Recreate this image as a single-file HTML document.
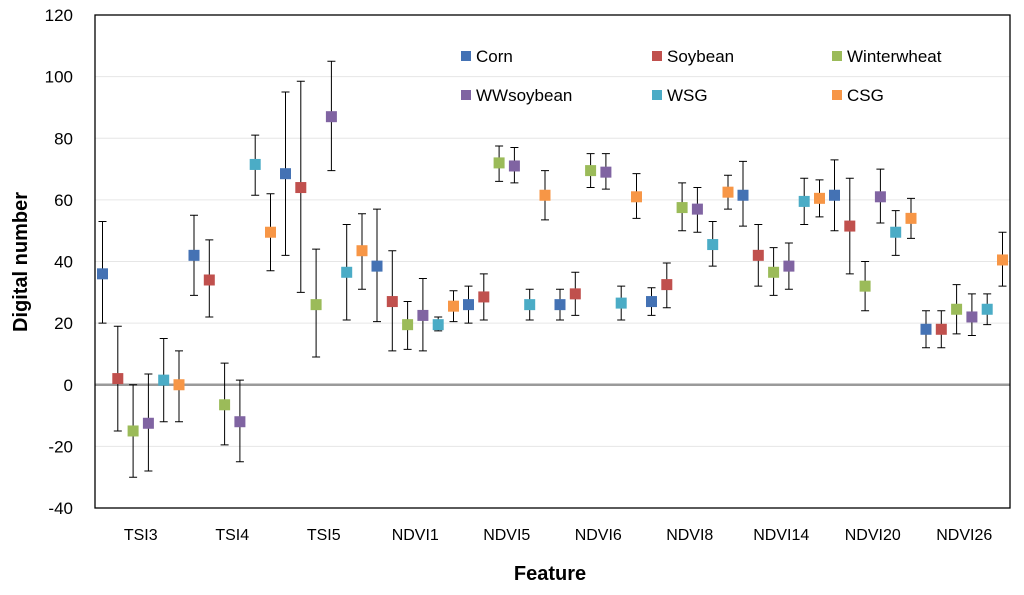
<!DOCTYPE html>
<html><head><meta charset="utf-8"><style>
body{margin:0;background:#fff;}
svg{font-family:"Liberation Sans",sans-serif;}
</style></head><body>
<svg id="c" width="1024" height="590"></svg>
<script>
const categories=["TSI3","TSI4","TSI5","NDVI1","NDVI5","NDVI6","NDVI8","NDVI14","NDVI20","NDVI26"];
const seriesNames=["Corn","Soybean","Winterwheat","WWsoybean","WSG","CSG"];
const colors=["#4472b4","#c0504d","#9bbb59","#8064a2","#4bacc6","#f79646"];
const cornMean=[36,42,68.5,38.5,26,26,27,61.5,61.5,18];
const cornLo=[20,29,42,20.5,20,21,22.5,51.5,50,12];
const cornHi=[53,55,95,57,32,31,31.5,72.5,73,24];
const soyMean=[2,34,64,27,28.5,29.5,32.5,42,51.5,18];
const soyLo=[-15,22,30,11,21,22.5,25,32,36,12];
const soyHi=[19,47,98.5,43.5,36,36.5,39.5,52,67,24];
const wwMean=[-15,-6.5,26,19.5,72,69.5,57.5,36.5,32,24.5];
const wwLo=[-30,-19.5,9,11.5,66,64,50,29,24,16.5];
const wwHi=[0,7,44,27,77.5,75,65.5,44.5,40,32.5];
const wwsMean=[-12.5,-12,87,22.5,71,69,57,38.5,61,22];
const wwsLo=[-28,-25,69.5,11,65.5,63.5,49.5,31,52.5,16];
const wwsHi=[3.5,1.5,105,34.5,77,75,64,46,70,29.5];
const wsgMean=[1.5,71.5,36.5,19.5,26,26.5,45.5,59.5,49.5,24.5];
const wsgLo=[-12,61.5,21,17.5,21,21,38.5,52,42,19.5];
const wsgHi=[15,81,52,22,31,32,53,67,56.5,29.5];
const csgMean=[0,49.5,43.5,25.5,61.5,61,62.5,60.5,54,40.5];
const csgLo=[-12,37,31,20.5,53.5,54,57,54.5,47.5,32];
const csgHi=[11,62,55.5,30.5,69.5,68.5,68,66.5,60.5,49.5];
const yTicks=[-40,-20,0,20,40,60,80,100,120];
const means=[cornMean,soyMean,wwMean,wwsMean,wsgMean,csgMean];
const los=[cornLo,soyLo,wwLo,wwsLo,wsgLo,csgLo];
const his=[cornHi,soyHi,wwHi,wwsHi,wsgHi,csgHi];

const NS="http://www.w3.org/2000/svg";
const svg=document.getElementById('c');
const L=95,R=1010,T=15,B=508;
const y=v=>B-(v+40)/160*(B-T);
const cw=(R-L)/categories.length;
const x=(ci,si)=>L+cw*ci+cw/2+(si-2.5)*15.3;
function el(t,a,txt){const e=document.createElementNS(NS,t);for(const k in a)e.setAttribute(k,a[k]);if(txt!==undefined)e.textContent=txt;svg.appendChild(e);return e;}

yTicks.forEach(v=>{
  const g=el('line',{x1:L,x2:R,y1:y(v),y2:y(v),stroke:v===0?'#9a9a9a':'#e6e6e6','stroke-width':v===0?2.5:1});
  
  
  const t=el('text',{x:73,y:y(v)+6,'text-anchor':'end','font-size':17,fill:'#000'},String(v));
  
  
});
const fr=el('rect',{x:L,y:T,width:R-L,height:B-T,fill:'none',stroke:'#000','stroke-width':1.3});


categories.forEach((c,i)=>{
  const t=el('text',{x:L+cw*i+cw/2,y:540,'text-anchor':'middle','font-size':16},c);
  
  
});
means.forEach((m,si)=>{
  m.forEach((v,ci)=>{
    const xx=x(ci,si);
    const eb=el('path',{d:`M${xx},${y(los[si][ci])}V${y(his[si][ci])}M${xx-4},${y(los[si][ci])}H${xx+4}M${xx-4},${y(his[si][ci])}H${xx+4}`,stroke:'#000','stroke-width':1,fill:'none'});
    
    
    const r=el('rect',{x:xx-5.5,y:y(v)-5.5,width:11,height:11,fill:colors[si]});
    
    
  });
});
const lx=[466,657,837],ly=[56,95];
seriesNames.forEach((n,i)=>{
  const X=lx[i%3],Y=ly[Math.floor(i/3)];
  const r=el('rect',{x:X-5,y:Y-5,width:10,height:10,fill:colors[i]});
  
  
  const t=el('text',{x:X+10,y:Y+6,'font-size':17},n);
  
  
});
const yt=el('text',{x:0,y:0,transform:'translate(27,262) rotate(-90)','text-anchor':'middle','font-size':20,'font-weight':'bold'},'Digital number');


const xt=el('text',{x:550,y:580,'text-anchor':'middle','font-size':20,'font-weight':'bold'},'Feature');


</script>
</body></html>
